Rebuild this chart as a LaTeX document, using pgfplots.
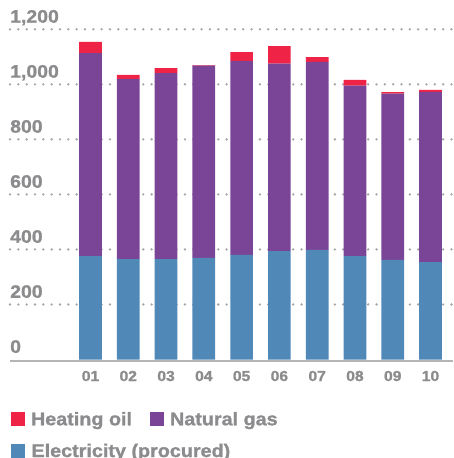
\documentclass[border=0pt]{standalone}
\usepackage{fontspec}
\setmainfont{Liberation Sans Bold}[FakeStretch=1.08, FakeBold=1.2]
\usepackage{pgfplots}
\pgfplotsset{compat=1.18}
\definecolor{elec}{RGB}{80,136,184}
\definecolor{gas}{RGB}{123,69,151}
\definecolor{oil}{RGB}{238,35,70}
\definecolor{txt}{RGB}{140,140,142}
\definecolor{gridc}{RGB}{165,165,167}
\definecolor{axc}{RGB}{180,180,182}
\begin{document}
\begin{tikzpicture}
\useasboundingbox (0,0) rectangle (453pt,-458pt);
\begin{axis}[
  at={(10pt,-360.6pt)}, anchor=south west,
  scale only axis,
  width=443pt, height=331.3pt,
  xmin=-1.131, xmax=10.596,
  ymin=-4, ymax=1200,
  ybar stacked, bar width=22.7pt,
  axis x line*=bottom, axis y line*=left,
  x axis line style={draw=axc, line width=2.2pt, -},
  y axis line style={draw=none},
  xtick={1,...,10},
  xticklabels={01,02,03,04,05,06,07,08,09,10},
  ytick={200,400,600,800,1000,1200},
  yticklabels={200,400,600,800,{1,000},{1,200}},
  extra y ticks={0},
  extra y tick labels={0},
  extra y tick style={grid=none},
  major tick length=0pt,
  tick style={draw=none},
  ymajorgrids,
  grid style={draw=gridc, line width=2.6pt, line cap=round, dash pattern=on 0pt off 8.33pt},
  yticklabel style={anchor=base west, inner sep=0pt, yshift=6.7pt, font=\fontsize{18}{18}\selectfont, text=txt},
  xticklabel style={anchor=base, inner sep=0pt, yshift=-20.4pt, font=\fontsize{14.5}{14.5}\selectfont, text=txt},
  legend columns=2,
  reverse legend,
  legend style={draw=none, fill=none, at={(0,0)}, anchor=north west, xshift=1pt, yshift=-51.4pt,
    inner sep=0pt, outer sep=0pt, column sep=0pt, row sep=17pt,
    font=\fontsize{18.3}{18.3}\selectfont, text=txt,
    nodes={inner sep=0pt, anchor=base west},
    /tikz/every even column/.append style={column sep=18pt}},
  legend cell align=left,
  legend image code/.code={\fill[#1, draw=none] (0pt,-1pt) rectangle (14pt,13pt);},
]
\addplot+[fill=elec, draw=none] coordinates {(1,376) (2,365) (3,365) (4,369) (5,380) (6,394) (7,398) (8,376) (9,362) (10,354)};
\addlegendentry{\makebox[0pt][l]{\hspace{6pt}Electricity (procured)}}
\addplot+[fill=gas, draw=none] coordinates {(1,737) (2,655) (3,676) (4,699) (5,705) (6,681) (7,684) (8,619) (9,604) (10,619)};
\addlegendentry{\hspace{6pt}Natural gas}
\addplot+[fill=oil, draw=none] coordinates {(1,41) (2,14) (3,18) (4,2) (5,32) (6,64) (7,17) (8,21) (9,6) (10,7)};
\addlegendentry{\hspace{6pt}Heating oil}
\end{axis}
\end{tikzpicture}
\end{document}
